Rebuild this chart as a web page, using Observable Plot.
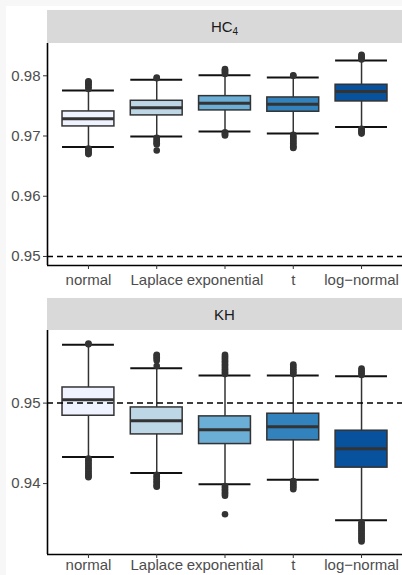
<!DOCTYPE html>
<html>
<head>
<meta charset="utf-8">
<script src="https://cdn.jsdelivr.net/npm/d3@7"></script>
<script src="https://cdn.jsdelivr.net/npm/@observablehq/plot@0.6"></script>
<style>
  html, body { margin: 0; padding: 0; width: 402px; height: 575px; overflow: hidden; background: #f7f7f7; }
  #wrap { position: absolute; left: 6px; top: 6px; width: 396px; height: 569px; background: #ffffff; }
  .strip { position: absolute; left: 47px; width: 355px; background: #d9d9d9; color: #1a1a1a;
           font-family: "Liberation Sans", Arial, sans-serif; font-size: 15px;
           display: flex; align-items: center; justify-content: center; }
  .strip sub { font-size: 10px; vertical-align: -3px; line-height: 0; }
  .panel { position: absolute; left: 0; }
</style>
</head>
<body>
<div id="wrap"></div>
<div class="strip" style="top:10px;height:33px;"><span>HC<sub>4</sub></span></div>
<div class="strip" style="top:298px;height:32px;"><span>KH</span></div>
<div class="panel" id="p1" style="top:43px;"></div>
<div class="panel" id="p2" style="top:330px;"></div>
<script>
// ---------- data ----------
const categories = ["normal", "Laplace", "exponential", "t", "log\u2212normal"];
const boxColors = ["#eff3ff", "#bdd7e7", "#6baed6", "#3182bd", "#08519c"];
const reference = 0.95;

// HC4 panel
const hc4Lower  = [0.96816, 0.96993, 0.97076, 0.97043, 0.97148];
const hc4Q1     = [0.97159, 0.97342, 0.97425, 0.97403, 0.97574];
const hc4Median = [0.97287, 0.97469, 0.97546, 0.97529, 0.97740];
const hc4Q3     = [0.97408, 0.97585, 0.97662, 0.97640, 0.97851];
const hc4Upper  = [0.97756, 0.97934, 0.98010, 0.97972, 0.98254];
const hc4Outliers = [
  [0.9778, 0.9781, 0.9783, 0.9786, 0.9788, 0.9790, 0.9791, 0.9679, 0.9677, 0.9675, 0.9673, 0.9671, 0.9670],
  [0.9796, 0.9797, 0.9697, 0.9695, 0.9692, 0.9690, 0.9688, 0.9686, 0.9676],
  [0.9803, 0.9805, 0.9807, 0.9809, 0.9811, 0.9706, 0.9704, 0.9702, 0.9701],
  [0.9800, 0.9801, 0.9702, 0.9699, 0.9697, 0.9695, 0.9692, 0.9690, 0.9688, 0.9685, 0.9683, 0.9681, 0.9680],
  [0.9827, 0.9829, 0.9831, 0.9833, 0.9835, 0.9712, 0.9710, 0.9708, 0.9706, 0.9704]
];

// KH panel
const khLower  = [0.94330, 0.94131, 0.93991, 0.94049, 0.93544];
const khQ1     = [0.94843, 0.94611, 0.94491, 0.94537, 0.94198];
const khMedian = [0.95041, 0.94781, 0.94669, 0.94706, 0.94433];
const khQ3     = [0.95194, 0.94946, 0.94835, 0.94868, 0.94657];
const khUpper  = [0.95724, 0.95434, 0.95343, 0.95343, 0.95335];
const khOutliers = [
  [0.9573, 0.9574, 0.9431, 0.9429, 0.9427, 0.9425, 0.9423, 0.9421, 0.9419, 0.9417, 0.9415, 0.9413, 0.9411, 0.9409, 0.9408],
  [0.9546, 0.9553, 0.9555, 0.9557, 0.9559, 0.9560, 0.9411, 0.9409, 0.9407, 0.9405, 0.9403, 0.9401, 0.9399, 0.9397, 0.9396],
  [0.9536, 0.9538, 0.9540, 0.9542, 0.9544, 0.9546, 0.9548, 0.9550, 0.9552, 0.9554, 0.9556, 0.9558, 0.9560,
   0.9397, 0.9395, 0.9393, 0.9391, 0.9389, 0.9387, 0.9385, 0.9362],
  [0.9536, 0.9538, 0.9540, 0.9542, 0.9544, 0.9546, 0.9548, 0.9403, 0.9401, 0.9399, 0.9397, 0.9395, 0.9393],
  [0.9535, 0.9537, 0.9539, 0.9541, 0.9543, 0.9352, 0.9350, 0.9348, 0.9346, 0.9344, 0.9342, 0.9340, 0.9338,
   0.9336, 0.9334, 0.9332, 0.9330, 0.9328]
];

const hc4Ticks = [0.95, 0.96, 0.97, 0.98];
const khTicks = [0.94, 0.95];

// ---------- drawing ----------
const halfWidth = 0.38;
const xDomain = [-0.6, categories.length - 1 + 0.6];

function panel({lower, q1, median, q3, upper, outliers, yDomain, yTicks, height, marginBottom, xPad}) {
  const boxes = categories.map((c, i) => ({i, cat: c, lo: lower[i], q1: q1[i], med: median[i], q3: q3[i], hi: upper[i]}));
  const dots = outliers.flatMap((arr, i) => arr.map(v => ({i, v})));
  return Plot.plot({
    width: 402,
    height,
    marginLeft: 47,
    marginRight: 0,
    marginTop: 0,
    marginBottom,
    style: {fontFamily: "'Liberation Sans', Arial, sans-serif", fontSize: "15px", background: "transparent", overflow: "visible"},
    x: {domain: xDomain, axis: null},
    y: {domain: yDomain, axis: null},
    color: {domain: categories, range: boxColors},
    marks: [
      Plot.ruleX(boxes, {x: "i", y1: "lo", y2: "hi", stroke: "#333333", strokeWidth: 1.5}),
      Plot.ruleY(boxes, {y: "lo", x1: d => d.i - halfWidth, x2: d => d.i + halfWidth, stroke: "#111111", strokeWidth: 2}),
      Plot.ruleY(boxes, {y: "hi", x1: d => d.i - halfWidth, x2: d => d.i + halfWidth, stroke: "#111111", strokeWidth: 2}),
      Plot.rect(boxes, {x1: d => d.i - halfWidth, x2: d => d.i + halfWidth, y1: "q1", y2: "q3", fill: "cat", stroke: "#333333", strokeWidth: 1.5}),
      Plot.ruleY(boxes, {y: "med", x1: d => d.i - halfWidth, x2: d => d.i + halfWidth, stroke: "#333333", strokeWidth: 3}),
      Plot.dot(dots, {x: "i", y: "v", r: 3.3, fill: "#333333", stroke: "none"}),
      Plot.ruleY([reference], {stroke: "#000000", strokeWidth: 1.5, strokeDasharray: "6,4"}),
      Plot.ruleX([xDomain[0]], {stroke: "#000000", strokeWidth: 1.6}),
      Plot.ruleY([yDomain[0]], {stroke: "#000000", strokeWidth: 1.6}),
      Plot.axisY({ticks: yTicks, tickFormat: d3.format(".2f"), tickSize: 4, tickPadding: 3, fontSize: 15, fill: "#4d4d4d", stroke: "#333333", label: null}),
      Plot.axisX({ticks: categories.map((c, i) => i), tickFormat: i => categories[i], tickSize: 4, tickPadding: xPad, fontSize: 15, fill: "#4d4d4d", stroke: "#333333", label: null})
    ]
  });
}

document.getElementById("p1").append(panel({
  lower: hc4Lower, q1: hc4Q1, median: hc4Median, q3: hc4Q3, upper: hc4Upper, outliers: hc4Outliers,
  yDomain: [0.9485, 0.98536], yTicks: hc4Ticks, height: 254, marginBottom: 32, xPad: 5
}));
document.getElementById("p2").append(panel({
  lower: khLower, q1: khQ1, median: khMedian, q3: khQ3, upper: khUpper, outliers: khOutliers,
  yDomain: [0.93119, 0.95902], yTicks: khTicks, height: 245, marginBottom: 21, xPad: 1
}));
</script>
</body>
</html>
